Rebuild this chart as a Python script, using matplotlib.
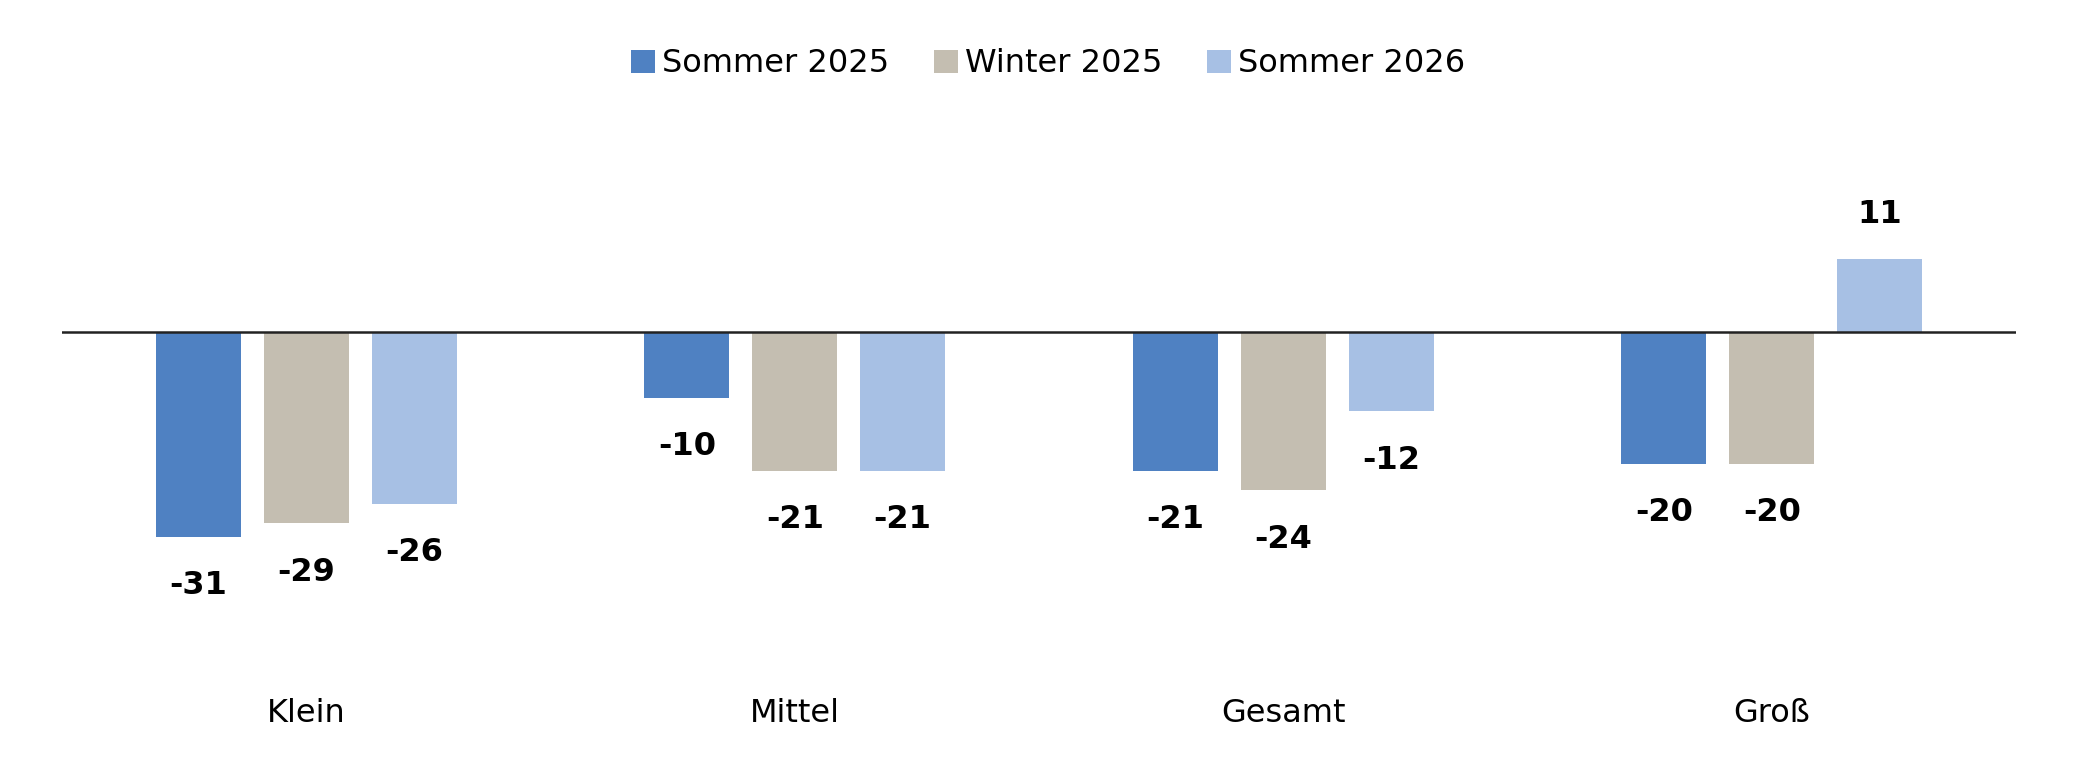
import matplotlib
matplotlib.use("Agg")
import matplotlib.pyplot as plt
import numpy as np

categories = ["Klein", "Mittel", "Gesamt", "Groß"]
series_names = ["Sommer 2025", "Winter 2025", "Sommer 2026"]
sommer_2025 = [-31, -10, -21, -20]
winter_2025 = [-29, -21, -24, -20]
sommer_2026 = [-26, -21, -12, 11]

colors = ["#4F81C2", "#C4BEB1", "#A7C0E4"]

plt.rcParams["font.family"] = ["DejaVu Sans"]


def plot_chart():
    fig = plt.figure(figsize=(20.79, 7.78), dpi=100)
    ax = fig.add_axes([62 / 2079, 1 - 680 / 778, (2016 - 62) / 2079, 580 / 778])

    x = np.arange(len(categories))
    width = 0.174
    pitch = 0.221
    all_series = [sommer_2025, winter_2025, sommer_2026]
    for i, (name, values) in enumerate(zip(series_names, all_series)):
        pos = x + (i - 1) * pitch
        ax.bar(pos, values, width, color=colors[i], label=name, zorder=2)
        for xp, v in zip(pos, values):
            if v < 0:
                ax.annotate(str(v), (xp, v), xytext=(0, -24), textcoords="offset points",
                            ha="center", va="top", fontsize=23, fontweight="bold")
            else:
                ax.annotate(str(v), (xp, v), xytext=(0, 21), textcoords="offset points",
                            ha="center", va="bottom", fontsize=23, fontweight="bold")

    ax.axhline(0, color="#222222", linewidth=1.8, zorder=3)
    ax.set_xlim(-0.5, 3.5)
    ax.set_ylim(-(680 - 332) / 6.6, (332 - 100) / 6.6)
    ax.set_xticks(x)
    ax.set_xticklabels(categories, fontsize=23)
    ax.tick_params(axis="x", length=0, pad=13)
    ax.set_yticks([])
    for s in ax.spines.values():
        s.set_visible(False)

    fig.legend(loc="center", bbox_to_anchor=(0.504, 1 - 64 / 778), ncol=3, frameon=False,
               fontsize=23, handlelength=0.75, handleheight=0.75, handletextpad=0.22,
               columnspacing=1.4)

    fig.savefig("out.png", dpi=100, facecolor="white")


plot_chart()
